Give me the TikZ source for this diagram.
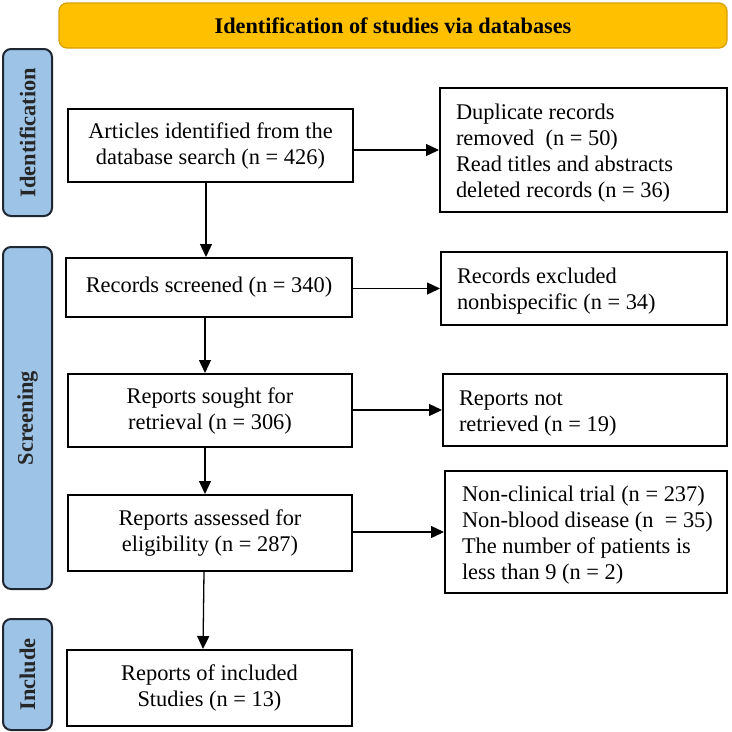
\documentclass[tikz,border=0pt]{standalone}
\usepackage{fontspec}
\setmainfont{Liberation Serif}
\usetikzlibrary{arrows.meta}
\definecolor{bannerfill}{HTML}{FFC000}
\definecolor{bannerdraw}{HTML}{D9A100}
\definecolor{sidefill}{HTML}{9DC3E6}
\definecolor{sidedraw}{HTML}{1F2733}
\newcommand{\topstrut}{\rule{0pt}{21.5pt}}
\tikzset{
  banner/.style={draw=bannerdraw, line width=1.2pt, fill=bannerfill, rounded corners=8pt, inner sep=0pt, font=\fontsize{22.3}{26}\selectfont\bfseries},
  sidebar/.style={draw=sidedraw, line width=2pt, fill=sidefill, rounded corners=8pt, inner sep=0pt, minimum width=49pt},
  sidelabel/.style={rotate=90, font=\fontsize{22.4}{26}\selectfont\bfseries, text=black!85},
  mainbox/.style={draw=black, line width=2pt, fill=white, inner sep=0pt, align=center, font=\fontsize{22.4}{26}\selectfont},
  sidebox/.style={draw=black, line width=2pt, fill=white, inner xsep=16pt, inner ysep=0pt, align=flush left, font=\fontsize{22.4}{26}\selectfont},
  arr/.style={-{Triangle[length=13pt,width=12pt]}, line width=1.3pt, black}
}
\begin{document}
\begin{tikzpicture}[x=1pt,y=-1pt]
\useasboundingbox (0,0) rectangle (732,732);
% banner
\node[banner, minimum width=668pt, minimum height=45pt] (ban) at (393,25.5) {Identification of studies via databases};
% side bars
\node[sidebar, minimum height=167pt] (sideid) at (27.5,132.5) {};
\node[sidelabel] (lblid) at (sideid.center) {Identification};
\node[sidebar, minimum height=342pt] (sidesc) at (27.5,418) {};
\node[sidelabel] (lblsc) at (sidesc.center) {Screening};
\node[sidebar, minimum height=111pt] (sidein) at (27.5,674.5) {};
\node[sidelabel] (lblin) at (sidein.center) {Include};
% main column
\node[mainbox, minimum width=285pt, minimum height=73pt] (art) at (210.5,145.5) {Articles identified from the\\database search (n = 426)};
\node[mainbox, minimum width=286pt, minimum height=59pt] (rec) at (209,287.5) {Records screened (n = 340)};
\node[mainbox, minimum width=284pt, minimum height=73pt] (sou) at (210,410.5) {Reports sought for\\retrieval (n = 306)};
\node[mainbox, minimum width=284pt, minimum height=76pt] (ass) at (210,533) {Reports assessed for\\eligibility (n = 287)};
\node[mainbox, minimum width=285pt, minimum height=76pt] (inc) at (209.5,688) {Reports of included\\Studies (n = 13)};
% right column
\node[sidebox, text width=255pt, minimum height=124pt] (dup) at (583.5,150) {\topstrut\mbox{Duplicate records}\\\mbox{removed\ \ (n = 50)}\\\mbox{Read titles and abstracts}\\\mbox{deleted records (n = 36)}};
\node[sidebox, text width=254pt, minimum height=73pt] (exc) at (584,288.5) {\topstrut\mbox{Records excluded}\\\mbox{nonbispecific (n = 34)}};
\node[sidebox, text width=252pt, minimum height=72pt] (nre) at (585,410) {\topstrut\mbox{Reports not}\\\mbox{retrieved (n = 19)}};
\node[sidebox, text width=248pt, inner xsep=17pt, minimum height=122pt] (ncl) at (586,532) {\topstrut\mbox{Non-clinical trial (n = 237)}\\\mbox{Non-blood disease (n\ \ = 35)}\\\mbox{The number of patients is}\\\mbox{less than 9 (n = 2)}};
% vertical arrows
\draw[arr] ([xshift=-4.5pt]art.south) -- ([xshift=-3pt]rec.north);
\draw[arr] ([xshift=-4pt]rec.south) -- ([xshift=-5pt]sou.north);
\draw[arr] ([xshift=-5pt]sou.south) -- ([xshift=-5pt]ass.north);
\draw[arr] ([xshift=-6pt]ass.south) -- ([xshift=-6.5pt]inc.north);
% horizontal arrows
\draw[arr] (art.east |- dup.west) -- (dup.west);
\draw[arr] (rec.east |- exc.west) -- (exc.west);
\draw[arr] (sou.east |- nre.west) -- (nre.west);
\draw[arr] (ass.east |- ncl.west) -- (ncl.west);
\end{tikzpicture}
\end{document}
